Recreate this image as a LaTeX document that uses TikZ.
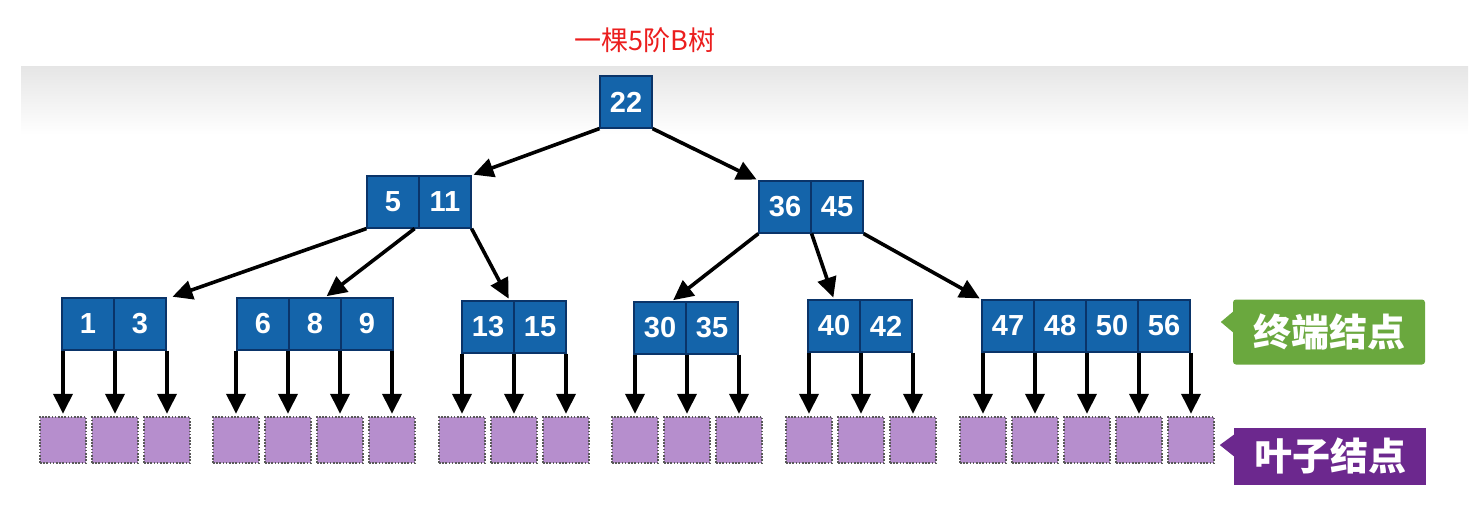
\documentclass[tikz,border=0pt]{standalone}
\usepackage{fontspec}
\setmainfont{Liberation Sans}
\newfontfamily\cjk{Noto Sans CJK SC}
\usetikzlibrary{arrows.meta, calc}
\definecolor{keyblue}{RGB}{20, 100, 170}
\definecolor{keyedge}{RGB}{10, 52, 105}
\definecolor{leafpurple}{RGB}{182, 142, 205}
\definecolor{tagpurple}{RGB}{108, 40, 142}
\definecolor{taggreen}{RGB}{106, 168, 62}
\definecolor{titlered}{RGB}{235, 30, 30}

\begin{document}
\begin{tikzpicture}[x=1pt, y=-1pt, >={Triangle[length=20pt, width=19pt]},
  keycell/.style={draw=keyedge, line width=1.2pt, fill=keyblue, text=white,
    minimum width=52pt, minimum height=52pt, inner sep=0pt,
    font=\fontsize{29}{30}\selectfont\bfseries},
  leafbox/.style={draw=gray!70!black, line width=2.4pt, dash pattern=on 1.6pt off 1.6pt,
    fill=leafpurple, minimum size=46pt, inner sep=0pt},
  arr/.style={->, line width=3.6pt, shorten >=2pt},
  tagbox/.style={text=white, inner sep=0pt, minimum width=192pt,
    font=\cjk\fontsize{38}{40}\selectfont\bfseries}]
  \useasboundingbox (0,0) rectangle (1483,523);

  % grey band behind the tree
  \shade[top color=gray!20, bottom color=white] (21,66) rectangle (1468,135);

  % title
  \node[text=titlered, font=\cjk\fontsize{27}{30}\selectfont] (title) at (645,40) {一棵5阶B树};

  % root and second level
  \node[keycell] (k22) at (626,102) {22};
  \foreach \k [count=\i] in {5,11}
    \node[keycell] (k\k) at (367+52*\i-26,202) {\k};
  \foreach \k [count=\i] in {36,45}
    \node[keycell] (k\k) at (759+52*\i-26,207) {\k};

  % terminal nodes
  \foreach \k [count=\i] in {1,3}
    \node[keycell] (g1k\i) at (62+52*\i-26,324) {\k};
  \foreach \k [count=\i] in {6,8,9}
    \node[keycell] (g2k\i) at (237+52*\i-26,324) {\k};
  \foreach \k [count=\i] in {13,15}
    \node[keycell] (g3k\i) at (462+52*\i-26,327) {\k};
  \foreach \k [count=\i] in {30,35}
    \node[keycell] (g4k\i) at (634+52*\i-26,328) {\k};
  \foreach \k [count=\i] in {40,42}
    \node[keycell] (g5k\i) at (808+52*\i-26,326) {\k};
  \foreach \k [count=\i] in {47,48,50,56}
    \node[keycell] (g6k\i) at (982+52*\i-26,326) {\k};

  % leaves, one below each pointer
  \foreach \g/\x/\n in {1/63/2, 2/236/3, 3/462/2, 4/635/2, 5/809/2, 6/983/4} {
    \foreach \j in {0,...,\n} {
      \node[leafbox] (l\g-\j) at (\x+52*\j,440) {};
      \draw[arr] (l\g-\j |- g\g k1.south) -- (l\g-\j.north);
    }
  }

  % tree edges
  \draw[arr] (k22.south west) -- (k11.north east);
  \draw[arr] (k22.south east) -- (k36.north west);
  \draw[arr] (k5.south west) -- ([xshift=4pt]g1k2.north east);
  \draw[arr] ([xshift=-5pt]k5.south east) -- ([xshift=10pt]g2k2.north);
  \draw[arr] (k11.south east) -- ([xshift=-5pt]g3k1.north east);
  \draw[arr] (k36.south west) -- ([xshift=-15pt]g4k1.north east);
  \draw[arr] (k36.south east) -- (g5k1.north);
  \draw[arr] (k45.south east) -- (g6k1.north west);

  % callouts
  \node[tagbox, fill=taggreen, rounded corners=3pt, minimum height=65pt] (tagterm) at (1329,332) {终端结点};
  \fill[taggreen] ($(tagterm.west)+(1,-21)$) -- ($(tagterm.west)+(-12,-10)$) -- ($(tagterm.west)+(1,1)$) -- cycle;
  \node[tagbox, fill=tagpurple, minimum height=57pt] (tagleaf) at (1330,456) {叶子结点};
  \fill[tagpurple] ($(tagleaf.west)+(1,-22)$) -- ($(tagleaf.west)+(-14,-11)$) -- ($(tagleaf.west)+(1,1)$) -- cycle;
\end{tikzpicture}
\end{document}
